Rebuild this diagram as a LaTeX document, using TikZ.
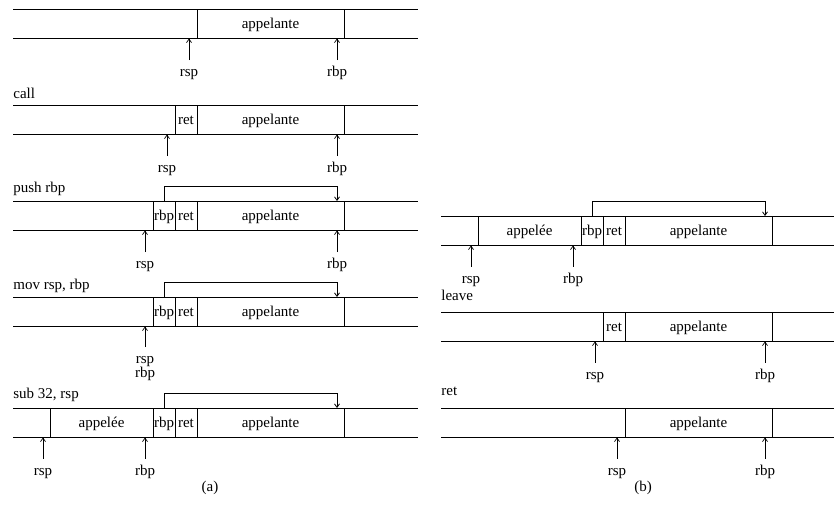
\documentclass[tikz,border=0pt]{standalone}
\usepackage{fontspec}
\setmainfont{Liberation Serif}
\usetikzlibrary{arrows.meta}
\begin{document}
\begin{tikzpicture}[x=1pt,y=-1pt,line width=0.8pt,
  txt/.style={font=\fontsize{15}{17}\selectfont,inner sep=0pt,anchor=base},
  stepname/.style={font=\fontsize{15}{17}\selectfont,inner sep=0pt,anchor=base west},
  ptrlab/.style={font=\fontsize{15}{17}\selectfont,inner sep=1pt,text height=15pt,anchor=base},
  ptr/.style={-{Straight Barb[length=3.5pt,width=5pt]},line width=0.7pt},
  link/.style={-{Straight Barb[length=3.5pt,width=5pt]},line width=0.8pt}]
\useasboundingbox (0,0) rectangle (834,515);

% ---------------- (a) strip 1 ----------------
\draw (13,9) -- (418,9) (13,38.5) -- (418,38.5);
\draw (197,9) -- (197,38.5) (344,9) -- (344,38.5);
\node[txt] (s1app) at (270.5,28) {appelante};
\coordinate (s1sp) at (189,38.5);
\coordinate (s1bp) at (337,38.5);
\node[ptrlab] (s1rsp) at (189,76.5) {rsp};
\node[ptrlab] (s1rbp) at (337,76.5) {rbp};
\draw[ptr] (s1rsp.north) -- (s1sp);
\draw[ptr] (s1rbp.north) -- (s1bp);

% ---------------- (a) strip 2 : call ----------------
\node[stepname] (l2) at (13,98.5) {call};
\draw (13,105) -- (418,105) (13,134.5) -- (418,134.5);
\draw (175,105) -- (175,134.5) (197,105) -- (197,134.5) (344,105) -- (344,134.5);
\node[txt] (s2ret) at (186,124) {ret};
\node[txt] (s2app) at (270.5,124) {appelante};
\coordinate (s2sp) at (167,134.5);
\coordinate (s2bp) at (337,134.5);
\node[ptrlab] (s2rsp) at (167,172.5) {rsp};
\node[ptrlab] (s2rbp) at (337,172.5) {rbp};
\draw[ptr] (s2rsp.north) -- (s2sp);
\draw[ptr] (s2rbp.north) -- (s2bp);

% ---------------- (a) strip 3 : push rbp ----------------
\node[stepname] (l3) at (13,192.5) {push rbp};
\draw (13,201) -- (418,201) (13,230.5) -- (418,230.5);
\draw (153,201) -- (153,230.5) (175,201) -- (175,230.5) (197,201) -- (197,230.5) (344,201) -- (344,230.5);
\node[txt] (s3rb) at (164,220) {rbp};
\node[txt] (s3ret) at (186,220) {ret};
\node[txt] (s3app) at (270.5,220) {appelante};
\coordinate (s3from) at (164,201);
\coordinate (s3to) at (337,201);
\draw[link] (s3from) -- ++(0,-14.5) -| (s3to);
\coordinate (s3sp) at (145,230.5);
\coordinate (s3bp) at (337,230.5);
\node[ptrlab] (s3rsp) at (145,268.5) {rsp};
\node[ptrlab] (s3rbp) at (337,268.5) {rbp};
\draw[ptr] (s3rsp.north) -- (s3sp);
\draw[ptr] (s3rbp.north) -- (s3bp);

% ---------------- (a) strip 4 : mov rsp, rbp ----------------
\node[stepname] (l4) at (13,289) {mov rsp, rbp};
\draw (13,297) -- (418,297) (13,326.5) -- (418,326.5);
\draw (153,297) -- (153,326.5) (175,297) -- (175,326.5) (197,297) -- (197,326.5) (344,297) -- (344,326.5);
\node[txt] (s4rb) at (164,316) {rbp};
\node[txt] (s4ret) at (186,316) {ret};
\node[txt] (s4app) at (270.5,316) {appelante};
\coordinate (s4from) at (164,297);
\coordinate (s4to) at (337,297);
\draw[link] (s4from) -- ++(0,-14.5) -| (s4to);
\coordinate (s4sp) at (145,326.5);
\node[ptrlab] (s4rsp) at (145,363.5) {rsp};
\node[ptrlab] (s4rbp) at (145,377.5) {rbp};
\draw[ptr] (s4rsp.north) -- (s4sp);

% ---------------- (a) strip 5 : sub 32, rsp ----------------
\node[stepname] (l5) at (13,398) {sub 32, rsp};
\draw (13,408) -- (418,408) (13,437.5) -- (418,437.5);
\draw (50,408) -- (50,437.5) (153,408) -- (153,437.5) (175,408) -- (175,437.5) (197,408) -- (197,437.5) (344,408) -- (344,437.5);
\node[txt] (s5ee) at (101.5,427) {appelée};
\node[txt] (s5rb) at (164,427) {rbp};
\node[txt] (s5ret) at (186,427) {ret};
\node[txt] (s5app) at (270.5,427) {appelante};
\coordinate (s5from) at (164,408);
\coordinate (s5to) at (337,408);
\draw[link] (s5from) -- ++(0,-14.5) -| (s5to);
\coordinate (s5sp) at (43,437.5);
\coordinate (s5bp) at (145,437.5);
\node[ptrlab] (s5rsp) at (43,475) {rsp};
\node[ptrlab] (s5rbp) at (145,475) {rbp};
\draw[ptr] (s5rsp.north) -- (s5sp);
\draw[ptr] (s5rbp.north) -- (s5bp);

\node[font=\fontsize{15}{17}\selectfont,inner sep=0pt] (capa) at (210,488) {(a)};

% ---------------- (b) strip 1 ----------------
\draw (441,216) -- (834,216) (441,245.5) -- (834,245.5);
\draw (478,216) -- (478,245.5) (581,216) -- (581,245.5) (603,216) -- (603,245.5) (625,216) -- (625,245.5) (772,216) -- (772,245.5);
\node[txt] (r1ee) at (529.5,235) {appelée};
\node[txt] (r1rb) at (592,235) {rbp};
\node[txt] (r1ret) at (614,235) {ret};
\node[txt] (r1app) at (698.5,235) {appelante};
\coordinate (r1from) at (592,216);
\coordinate (r1to) at (765,216);
\draw[link] (r1from) -- ++(0,-14.5) -| (r1to);
\coordinate (r1sp) at (471,245.5);
\coordinate (r1bp) at (573,245.5);
\node[ptrlab] (r1rsp) at (471,283) {rsp};
\node[ptrlab] (r1rbp) at (573,283) {rbp};
\draw[ptr] (r1rsp.north) -- (r1sp);
\draw[ptr] (r1rbp.north) -- (r1bp);

% ---------------- (b) strip 2 : leave ----------------
\node[stepname] (m2) at (441,300.5) {leave};
\draw (441,312) -- (834,312) (441,341.5) -- (834,341.5);
\draw (603,312) -- (603,341.5) (625,312) -- (625,341.5) (772,312) -- (772,341.5);
\node[txt] (r2ret) at (614,331) {ret};
\node[txt] (r2app) at (698.5,331) {appelante};
\coordinate (r2sp) at (595,341.5);
\coordinate (r2bp) at (765,341.5);
\node[ptrlab] (r2rsp) at (595,379) {rsp};
\node[ptrlab] (r2rbp) at (765,379) {rbp};
\draw[ptr] (r2rsp.north) -- (r2sp);
\draw[ptr] (r2rbp.north) -- (r2bp);

% ---------------- (b) strip 3 : ret ----------------
\node[stepname] (m3) at (441,395.5) {ret};
\draw (441,408) -- (834,408) (441,437.5) -- (834,437.5);
\draw (625,408) -- (625,437.5) (772,408) -- (772,437.5);
\node[txt] (r3app) at (698.5,427) {appelante};
\coordinate (r3sp) at (617,437.5);
\coordinate (r3bp) at (765,437.5);
\node[ptrlab] (r3rsp) at (617,475) {rsp};
\node[ptrlab] (r3rbp) at (765,475) {rbp};
\draw[ptr] (r3rsp.north) -- (r3sp);
\draw[ptr] (r3rbp.north) -- (r3bp);

\node[font=\fontsize{15}{17}\selectfont,inner sep=0pt] (capb) at (643,488) {(b)};
\end{tikzpicture}
\end{document}
